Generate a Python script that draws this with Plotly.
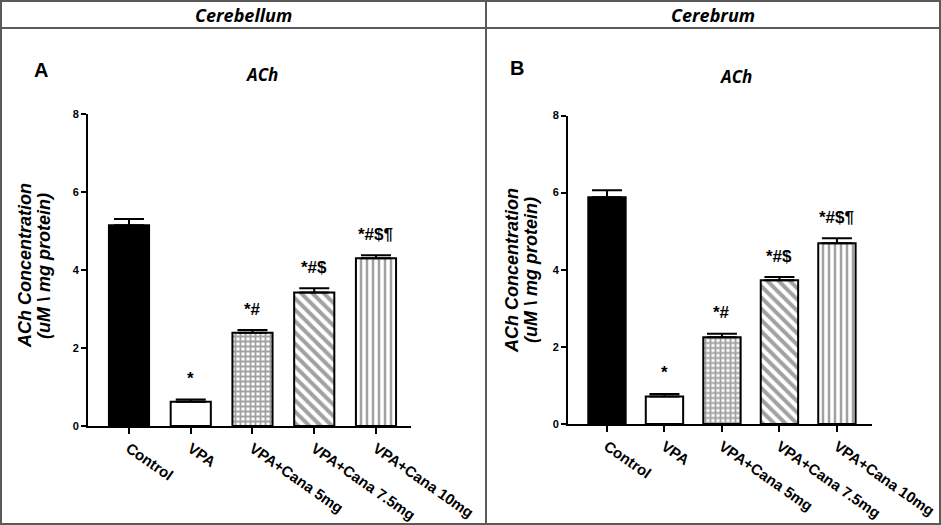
import plotly.graph_objects as go

# ---- data ----
groups = ["Control", "VPA", "VPA+Cana 5mg", "VPA+Cana 7.5mg", "VPA+Cana 10mg"]
cerebellum_ach = [5.15, 0.62, 2.39, 3.42, 4.30]
cerebellum_sem = [0.16, 0.06, 0.07, 0.11, 0.08]
cerebrum_ach = [5.88, 0.71, 2.25, 3.73, 4.69]
cerebrum_sem = [0.18, 0.07, 0.09, 0.08, 0.13]
sig_labels = ["", "*", "*#", "*#$", "*#$¶"]
y_ticks = [0, 2, 4, 6, 8]

W, H = 941, 525
fill_colors = ["black", "white", "white", "white", "white"]
pattern_shapes = ["", "", "+", "\\", "|"]
pattern_sizes = [6, 6, 5, 8, 6]
pattern_solid = [0.3, 0.3, 0.6, 0.5, 0.42]

AX_FONT = "Liberation Sans Narrow, Arial Narrow, Liberation Sans, Arial"
fig = go.Figure()

def add_panel(vals, errs, xa, ya):
    fig.add_trace(go.Bar(
        x=groups, y=vals, xaxis=xa, yaxis=ya, width=0.65,
        marker=dict(color=fill_colors, line=dict(color="black", width=2),
                    pattern=dict(shape=pattern_shapes, fgcolor="black", bgcolor="white",
                                 size=pattern_sizes, solidity=pattern_solid)),
        error_y=dict(type="data", array=errs, arrayminus=[0]*len(errs), symmetric=False,
                     color="black", thickness=2, width=15),
        showlegend=False, hoverinfo="skip"))
    for g, v, e, s in zip(groups, vals, errs, sig_labels):
        if s:
            fig.add_annotation(x=g, y=v + e, xref=xa, yref=ya, text=s, showarrow=False,
                               yanchor="middle", yshift=21,
                               font=dict(family=AX_FONT, size=17, color="black", weight="bold"))

add_panel(cerebellum_ach, cerebellum_sem, "x", "y")
add_panel(cerebrum_ach, cerebrum_sem, "x2", "y2")

xcommon = dict(type="category", showline=True, linecolor="black", linewidth=2, ticks="outside",
               ticklen=6, tickwidth=2, tickcolor="black", showgrid=False, zeroline=False,
               automargin=False,
               tickangle=35, tickfont=dict(family=AX_FONT, size=15, color="black", weight="bold"))
ycommon = dict(range=[0, 8], tickvals=y_ticks, showline=True, linecolor="black", linewidth=2,
               ticks="outside", ticklen=5, tickwidth=2, tickcolor="black", showgrid=False,
               zeroline=False, automargin=False,
               tickfont=dict(family=AX_FONT, size=11, color="black", weight="bold"))

fig.update_layout(
    width=W, height=H, margin=dict(l=0, r=0, t=0, b=0, autoexpand=False),
    paper_bgcolor="white", plot_bgcolor="rgba(0,0,0,0)",
    xaxis=dict(xcommon, domain=[88/W, 411/W], range=[-0.664, 4.567], anchor="y"),
    yaxis=dict(ycommon, domain=[1-426/H, 1-114/H], anchor="x"),
    xaxis2=dict(xcommon, domain=[568/W, 872/W], range=[-0.678, 4.61], anchor="y2"),
    yaxis2=dict(ycommon, domain=[1-424/H, 1-115.5/H], anchor="x2"),
)

# frame lines
gray = "#5a5a5a"
fig.add_shape(type="rect", xref="paper", yref="paper", x0=1/W, x1=1-1/W, y0=1/H, y1=1-1/H,
              line=dict(color=gray, width=2))
fig.add_shape(type="line", xref="paper", yref="paper", x0=0, x1=1, y0=1-28/H, y1=1-28/H,
              line=dict(color=gray, width=2))
fig.add_shape(type="line", xref="paper", yref="paper", x0=486/W, x1=486/W, y0=0, y1=1,
              line=dict(color=gray, width=2))

HEAD_FONT = "Open Sans, Noto Sans, sans-serif"
def txt(x, y, s, size, family, italic=True, angle=0):
    fig.add_annotation(x=x/W, y=1-y/H, xref="paper", yref="paper", text=s, showarrow=False,
                       xanchor="center", yanchor="middle", textangle=angle,
                       font=dict(family=family, size=size, color="black", weight="bold",
                                 style="italic" if italic else "normal"))

txt(243, 15, "Cerebellum", 18, HEAD_FONT)
txt(713, 15, "Cerebrum", 18, HEAD_FONT)
txt(41, 70, "A", 20, "Liberation Sans, Arial", italic=False)
txt(517, 68, "B", 20, "Liberation Sans, Arial", italic=False)
txt(261, 75, "ACh", 17, HEAD_FONT)
txt(735, 76, "ACh", 17, HEAD_FONT)
txt(25, 266, "ACh Concentration", 18, "Liberation Sans, Arial", angle=-90)
txt(44, 266, "(uM \\ mg protein)", 18, "Liberation Sans, Arial", angle=-90)
txt(512, 270, "ACh Concentration", 18, "Liberation Sans, Arial", angle=-90)
txt(531, 270, "(uM \\ mg protein)", 18, "Liberation Sans, Arial", angle=-90)

fig.write_html("out.html", config={"displayModeBar": False},
               post_script="document.body.style.margin='0';")
